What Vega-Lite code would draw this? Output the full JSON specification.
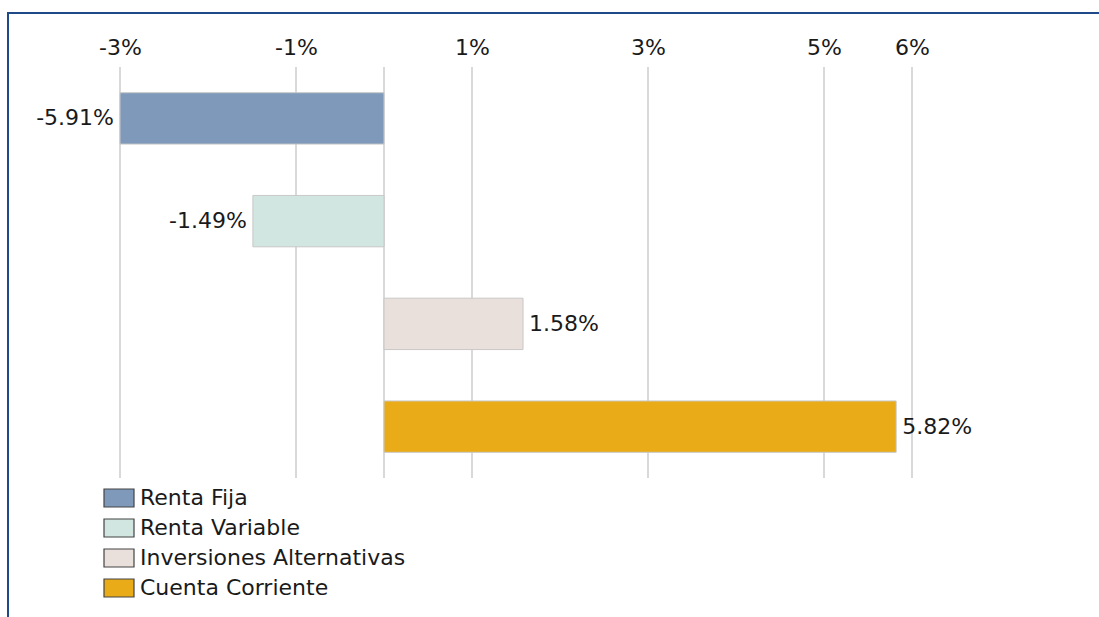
{
  "$schema": "https://vega.github.io/schema/vega-lite/v6.json",
  "autosize": {"type": "none"},
  "padding": {"left": 8, "top": 13, "right": 0, "bottom": 0},
  "width": 1100,
  "height": 640,
  "background": "white",
  "config": {
    "view": {"stroke": "#1f4a8a", "strokeWidth": 2},
    "font": "DejaVu Sans"
  },
  "datasets": {
    "bars": [
      {"cat": "Renta Fija", "value": -5.91},
      {"cat": "Renta Variable", "value": -1.49},
      {"cat": "Inversiones Alternativas", "value": 1.58},
      {"cat": "Cuenta Corriente", "value": 5.82}
    ],
    "ticks": [
      {"tick": -3}, {"tick": -1}, {"tick": 0}, {"tick": 1}, {"tick": 3}, {"tick": 5}, {"tick": 6}
    ]
  },
  "resolve": {"scale": {"y": "independent"}},
  "layer": [
    {
      "data": {"name": "ticks"},
      "mark": {"type": "rule", "color": "#cccccc", "strokeWidth": 1.5},
      "encoding": {
        "x": {
          "field": "tick",
          "type": "quantitative",
          "scale": {"domain": [-3, 6], "range": [112, 904], "clamp": true, "nice": false, "zero": false},
          "axis": {
            "orient": "top",
            "offset": -54,
            "values": [-3, -1, 1, 3, 5, 6],
            "labelExpr": "datum.value + '%'",
            "domain": false,
            "ticks": false,
            "grid": false,
            "labelPadding": 8,
            "labelFontSize": 22,
            "labelColor": "#1a1a1a",
            "labelFont": "DejaVu Sans",
            "labelFlush": false,
            "labelOverlap": false,
            "title": null
          }
        },
        "y": {"datum": 0, "type": "quantitative", "scale": {"domain": [0, 1], "range": [54, 465]}, "axis": null},
        "y2": {"datum": 1}
      }
    },
    {
      "data": {"name": "bars"},
      "layer": [
        {
          "mark": {"type": "bar", "stroke": "#c8c8c8", "strokeWidth": 1},
          "encoding": {
            "x": {"field": "value", "type": "quantitative"},
            "y": {
              "field": "cat",
              "type": "nominal",
              "sort": ["Renta Fija", "Renta Variable", "Inversiones Alternativas", "Cuenta Corriente"],
              "scale": {"range": [54, 465], "paddingInner": 0.5, "paddingOuter": 0.25},
              "axis": null
            },
            "color": {
              "field": "cat",
              "type": "nominal",
              "scale": {
                "domain": ["Renta Fija", "Renta Variable", "Inversiones Alternativas", "Cuenta Corriente"],
                "range": ["#7f99bb", "#d1e6e0", "#e9dfdb", "#e9ab18"]
              },
              "legend": {
                "orient": "none",
                "legendX": 95,
                "legendY": 469,
                "title": null,
                "symbolType": "M-1,-0.6H1V0.6H-1Z",
                "symbolSize": 900,
                "symbolStrokeColor": "#444444",
                "symbolStrokeWidth": 1.2,
                "symbolOpacity": 1,
                "labelFontSize": 22,
                "labelFont": "DejaVu Sans",
                "labelColor": "#1a1a1a",
                "labelOffset": 5,
                "rowPadding": 2,
                "labelLimit": 600
              }
            }
          }
        },
        {
          "mark": {
            "type": "text",
            "fontSize": 22,
            "font": "DejaVu Sans",
            "color": "#1a1a1a",
            "baseline": "middle",
            "align": {"expr": "datum.value < 0 ? 'right' : 'left'"},
            "dx": {"expr": "datum.value < 0 ? -6 : 6"},
            "text": {"expr": "datum.value + '%'"}
          },
          "encoding": {
            "x": {"field": "value", "type": "quantitative"},
            "y": {
              "field": "cat",
              "type": "nominal",
              "sort": ["Renta Fija", "Renta Variable", "Inversiones Alternativas", "Cuenta Corriente"]
            }
          }
        }
      ]
    }
  ]
}
